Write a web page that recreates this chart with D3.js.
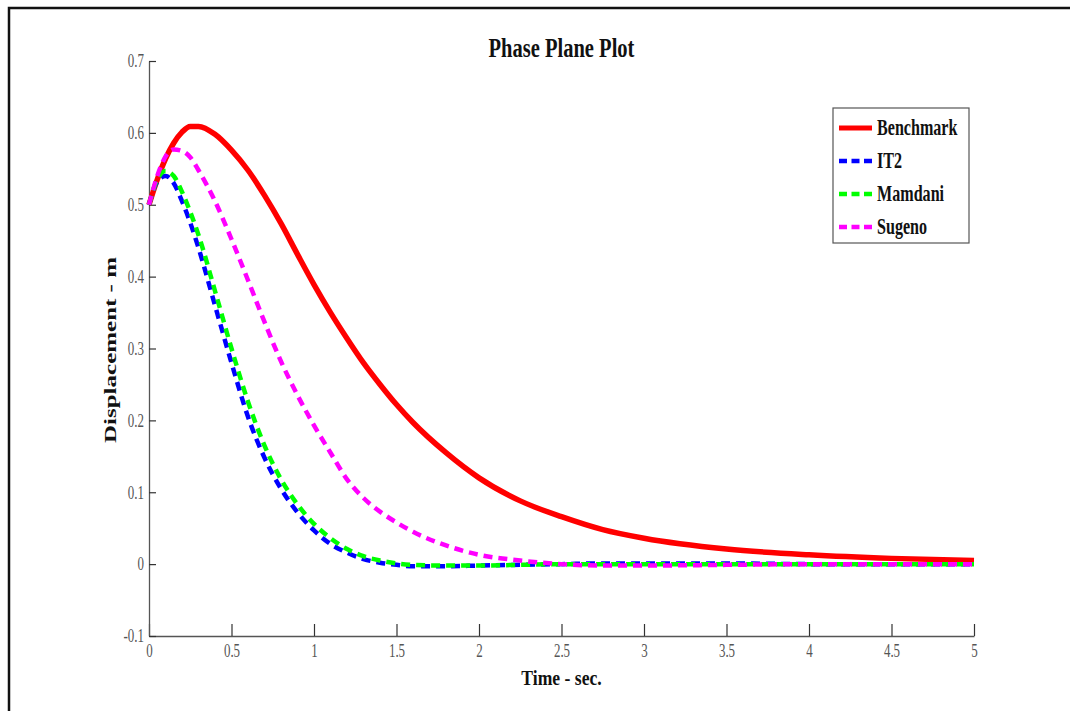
<!DOCTYPE html>
<html>
<head>
<meta charset="utf-8">
<script src="https://cdn.jsdelivr.net/npm/d3@7"></script>
<style>
  html, body { margin: 0; padding: 0; background: #fff; }
  svg { display: block; }
</style>
</head>
<body>
<div id="chart"></div>
<script>
// -------------------------------
// Phase Plane Plot (line chart)
// -------------------------------

const time = [0, 0.05, 0.1, 0.15, 0.2, 0.25, 0.3, 0.4, 0.5, 0.6, 0.7, 0.8, 0.9, 1.0, 1.1, 1.2, 1.3, 1.4, 1.5, 1.6, 1.8, 2.0, 2.25, 2.5, 2.75, 3.0, 3.5, 4.0, 4.5, 5.0];

const benchmark = [0.500, 0.535, 0.564, 0.586, 0.601, 0.609, 0.609, 0.598, 0.576, 0.548, 0.513, 0.474, 0.431, 0.389, 0.350, 0.314, 0.280, 0.250, 0.222, 0.197, 0.155, 0.120, 0.088, 0.066, 0.048, 0.036, 0.021, 0.013, 0.008, 0.005];
const it2 = [0.500, 0.532, 0.540, 0.530, 0.505, 0.475, 0.440, 0.360, 0.280, 0.205, 0.148, 0.105, 0.072, 0.047, 0.028, 0.016, 0.007, 0.002, -0.001, -0.003, -0.003, -0.002, -0.001, 0.000, 0.001, 0.001, 0.001, 0.000, 0.000, 0.000];
const mamdani = [0.500, 0.535, 0.547, 0.540, 0.518, 0.490, 0.458, 0.380, 0.300, 0.226, 0.165, 0.118, 0.083, 0.056, 0.036, 0.021, 0.011, 0.005, 0.001, -0.001, -0.002, -0.002, -0.001, 0.000, 0.000, 0.000, 0.000, 0.000, 0.000, 0.000];
const sugeno = [0.500, 0.540, 0.567, 0.577, 0.575, 0.566, 0.548, 0.505, 0.452, 0.395, 0.337, 0.282, 0.235, 0.193, 0.155, 0.118, 0.092, 0.073, 0.058, 0.045, 0.026, 0.013, 0.005, 0.000, -0.002, -0.002, -0.001, 0.000, 0.000, 0.000];

const seriesNames = ["Benchmark", "IT2", "Mamdani", "Sugeno"];
const seriesColors = ["#ff0000", "#0000ff", "#00ff00", "#ff00ff"];

const xTicks = [0, 0.5, 1, 1.5, 2, 2.5, 3, 3.5, 4, 4.5, 5];
const yTicks = [-0.1, 0, 0.1, 0.2, 0.3, 0.4, 0.5, 0.6, 0.7];

const W = 1070, H = 711;
const margin = {top: 61, right: 96, bottom: 75, left: 149};
const width = W - margin.left - margin.right;
const height = H - margin.top - margin.bottom;

const root = d3.select("#chart")
  .append("svg")
  .attr("width", W)
  .attr("height", H);

// outer frame (top and left edges only)
root.append("path")
  .attr("d", `M9,${H} L9,8 L${W},8`)
  .attr("fill", "none")
  .attr("stroke", "#111")
  .attr("stroke-width", 2.5);

const svg = root.append("g")
  .attr("transform", `translate(${margin.left}, ${margin.top})`);

// Scales
const x = d3.scaleLinear().domain([0, 5]).range([0, width]);
const y = d3.scaleLinear().domain([-0.1, 0.7]).range([height, 0]);

const serif = "'Liberation Serif', 'Times New Roman', serif";
const fmt = d => String(d); // plain hyphen for negatives

// X axis (ticks inside)
const xAxis = svg.append("g")
  .attr("transform", `translate(0, ${height})`)
  .call(d3.axisBottom(x).tickValues(xTicks).tickFormat(fmt).tickSizeInner(-12).tickSizeOuter(0).tickPadding(0));
xAxis.selectAll("text")
  .attr("y", 21)
  .attr("dy", 0)
  .attr("transform", "scale(0.72,1)")
  .style("font-family", serif)
  .style("font-size", "18px")
  .style("fill", "#555");

// Y axis (ticks inside)
const yAxis = svg.append("g")
  .call(d3.axisLeft(y).tickValues(yTicks).tickFormat(fmt).tickSizeInner(-7).tickSizeOuter(0).tickPadding(0));
yAxis.selectAll("text")
  .attr("x", -5 / 0.72)
  .attr("dy", "0.32em")
  .attr("transform", "scale(0.72,1)")
  .style("font-family", serif)
  .style("font-size", "18px")
  .style("fill", "#555");

[xAxis, yAxis].forEach(a => {
  a.select(".domain").attr("stroke", "#555").attr("stroke-width", 1.3);
  a.selectAll(".tick line").attr("stroke", "#333").attr("stroke-width", 1.2);
});

// Lines
const allSeries = [benchmark, it2, mamdani, sugeno];
const line = d3.line()
  .x((d, i) => x(time[i]))
  .y(d => y(d))
  .curve(d3.curveMonotoneX);

allSeries.forEach((vals, k) => {
  svg.append("path")
    .datum(vals)
    .attr("fill", "none")
    .attr("stroke", seriesColors[k])
    .attr("stroke-width", k === 0 ? 5.5 : 4.5)
    .attr("stroke-dasharray", k === 0 ? null : "9,6")
    .attr("d", line);
});

// Title
root.append("text")
  .attr("transform", `translate(${margin.left + width / 2}, 57) scale(0.76,1)`)
  .attr("text-anchor", "middle")
  .style("font-family", serif)
  .style("font-weight", "bold")
  .style("font-size", "27px")
  .style("fill", "#111")
  .text("Phase Plane Plot");

// Axis labels
root.append("text")
  .attr("transform", `translate(${margin.left + width / 2}, 685) scale(0.88,1)`)
  .attr("text-anchor", "middle")
  .style("font-family", serif)
  .style("font-weight", "bold")
  .style("font-size", "20px")
  .style("fill", "#111")
  .text("Time - sec.");

root.append("text")
  .attr("transform", "translate(116, 350) scale(0.7,1) rotate(-90)")
  .attr("text-anchor", "middle")
  .style("font-family", serif)
  .style("font-weight", "bold")
  .style("font-size", "25px")
  .style("fill", "#111")
  .text("Displacement - m");

// Legend
const legend = root.append("g").attr("transform", "translate(833, 108)");
legend.append("rect")
  .attr("width", 136)
  .attr("height", 135)
  .attr("fill", "#fff")
  .attr("stroke", "#555")
  .attr("stroke-width", 1.2);

seriesNames.forEach((name, k) => {
  const ly = 20 + k * 33;
  legend.append("line")
    .attr("x1", 6).attr("x2", 39)
    .attr("y1", ly).attr("y2", ly)
    .attr("stroke", seriesColors[k])
    .attr("stroke-width", k === 0 ? 5 : 4.5)
    .attr("stroke-dasharray", k === 0 ? null : "8,4.5");
  legend.append("text")
    .attr("transform", `translate(44, ${ly + 7}) scale(0.7,1)`)
    .style("font-family", serif)
    .style("font-weight", "bold")
    .style("font-size", "23px")
    .style("fill", "#111")
    .text(name);
});
</script>
</body>
</html>
